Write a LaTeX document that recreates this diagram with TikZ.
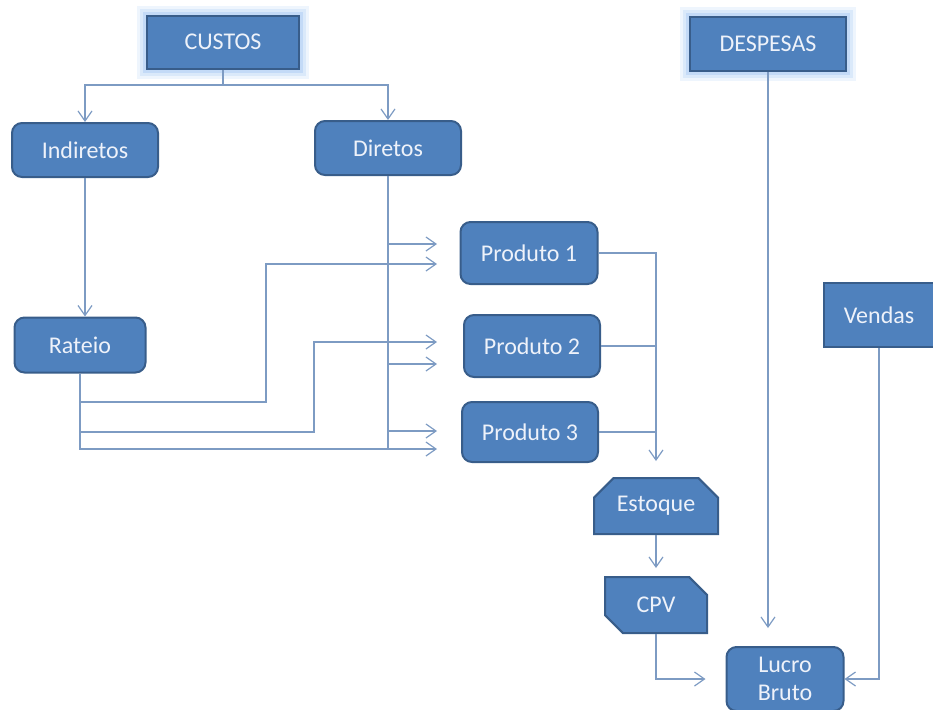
\documentclass[tikz,border=0pt]{standalone}
\usepackage{fontspec}
\setmainfont{Carlito}
\usetikzlibrary{arrows.meta,shapes.misc}
\definecolor{boxfill}{RGB}{79,129,189}
\definecolor{boxline}{RGB}{56,93,138}
\definecolor{boxtext}{RGB}{238,242,250}
\definecolor{linkc}{RGB}{125,155,195}
\definecolor{glowc}{RGB}{140,185,240}
\tikzset{
  box/.style={draw=boxline, line width=1pt, fill=boxfill, text=boxtext,
    font=\fontsize{12}{14}\selectfont, align=center, inner sep=0pt},
  roundbox/.style={box, rounded corners=5pt},
  snipbox/.style={box, chamfered rectangle, chamfered rectangle xsep=5pt,
    chamfered rectangle ysep=5pt, inner sep=0pt},
  glow/.style={
    preaction={draw=glowc, line width=10pt, opacity=0.15, rounded corners=5pt},
    preaction={draw=glowc, line width=7pt, opacity=0.2, rounded corners=3pt},
    preaction={draw=glowc, line width=4pt, opacity=0.3}},
  link/.style={draw=linkc, line width=0.6pt},
  arr/.style={link, -{Straight Barb[length=5pt,width=7pt]}}
}
\begin{document}
\begin{tikzpicture}[x=0.5pt,y=-0.5pt]
\useasboundingbox (0,0) rectangle (933,709);
\node[box, glow, minimum width=76pt, minimum height=26.5pt] (custos) at (223,42) {CUSTOS};
\node[box, glow, minimum width=78pt, minimum height=27pt] (despesas) at (768,44) {DESPESAS};
\node[roundbox, minimum width=73pt, minimum height=27pt] (indiretos) at (85,150) {Indiretos};
\node[roundbox, minimum width=73pt, minimum height=27pt] (diretos) at (388,148) {Diretos};
\node[roundbox, minimum width=65.5pt, minimum height=27.5pt] (rateio) at (80,345) {Rateio};
\node[roundbox, minimum width=68.5pt, minimum height=31pt] (prod1) at (529,253) {Produto 1};
\node[roundbox, minimum width=68pt, minimum height=31pt] (prod2) at (532,346) {Produto 2};
\node[roundbox, minimum width=68pt, minimum height=30pt] (prod3) at (530,432) {Produto 3};
\node[box, minimum width=55pt, minimum height=32pt] (vendas) at (879,315) {Vendas};
\node[snipbox, chamfered rectangle corners={north west,north east},
  minimum width=62pt, minimum height=28pt] (estoque) at (656,506) {Estoque};
\node[snipbox, chamfered rectangle corners={north east,south west},
  minimum width=51pt, minimum height=28pt] (cpv) at (656,605) {CPV};
\node[roundbox, minimum width=58.5pt, minimum height=32pt] (lucro) at (785,679) {Lucro\\Bruto};

\coordinate (split) at (223,85);
\draw[link] (custos.south) -- (split);
\draw[arr] (split) -| (indiretos.north);
\draw[arr] (split) -| (diretos.north);
\draw[arr] (indiretos.south) -- (indiretos.south |- rateio.north);

\coordinate (dbot) at (388,448);
\coordinate (in1a) at (437,244);
\coordinate (in1b) at (437,264);
\coordinate (in2a) at (437,342);
\coordinate (in2b) at (437,364);
\coordinate (in3a) at (437,431);
\coordinate (in3b) at (437,449);
\draw[link] (diretos.south) -- (diretos.south |- dbot);
\draw[arr] (diretos.south |- in1a) -- (in1a);
\draw[arr] (diretos.south |- in2b) -- (in2b);
\draw[arr] (diretos.south |- in3a) -- (in3a);

\coordinate (r1) at (266,402);
\coordinate (r2) at (314,432);
\draw[arr] (rateio.south |- r1) -- (r1) |- (in1b);
\draw[arr] (rateio.south |- r2) -- (r2) |- (in2a);
\draw[arr] (rateio.south) -- (rateio.south |- in3b) -- (in3b);

\draw[arr, shorten >=8pt] (prod1.east) -| (estoque.north);
\draw[link] (prod2.east) -- (prod2.east -| estoque.north);
\draw[link] (prod3.east) -- (prod3.east -| estoque.north);
\draw[arr, shorten >=4pt] (estoque.south) -- (cpv.north);
\draw[arr, shorten >=10pt] (cpv.south) |- (lucro.west);
\draw[arr, shorten >=9pt] (despesas.south) -- (despesas.south |- lucro.north);
\draw[arr] (vendas.south) |- (lucro.east);
\end{tikzpicture}
\end{document}
